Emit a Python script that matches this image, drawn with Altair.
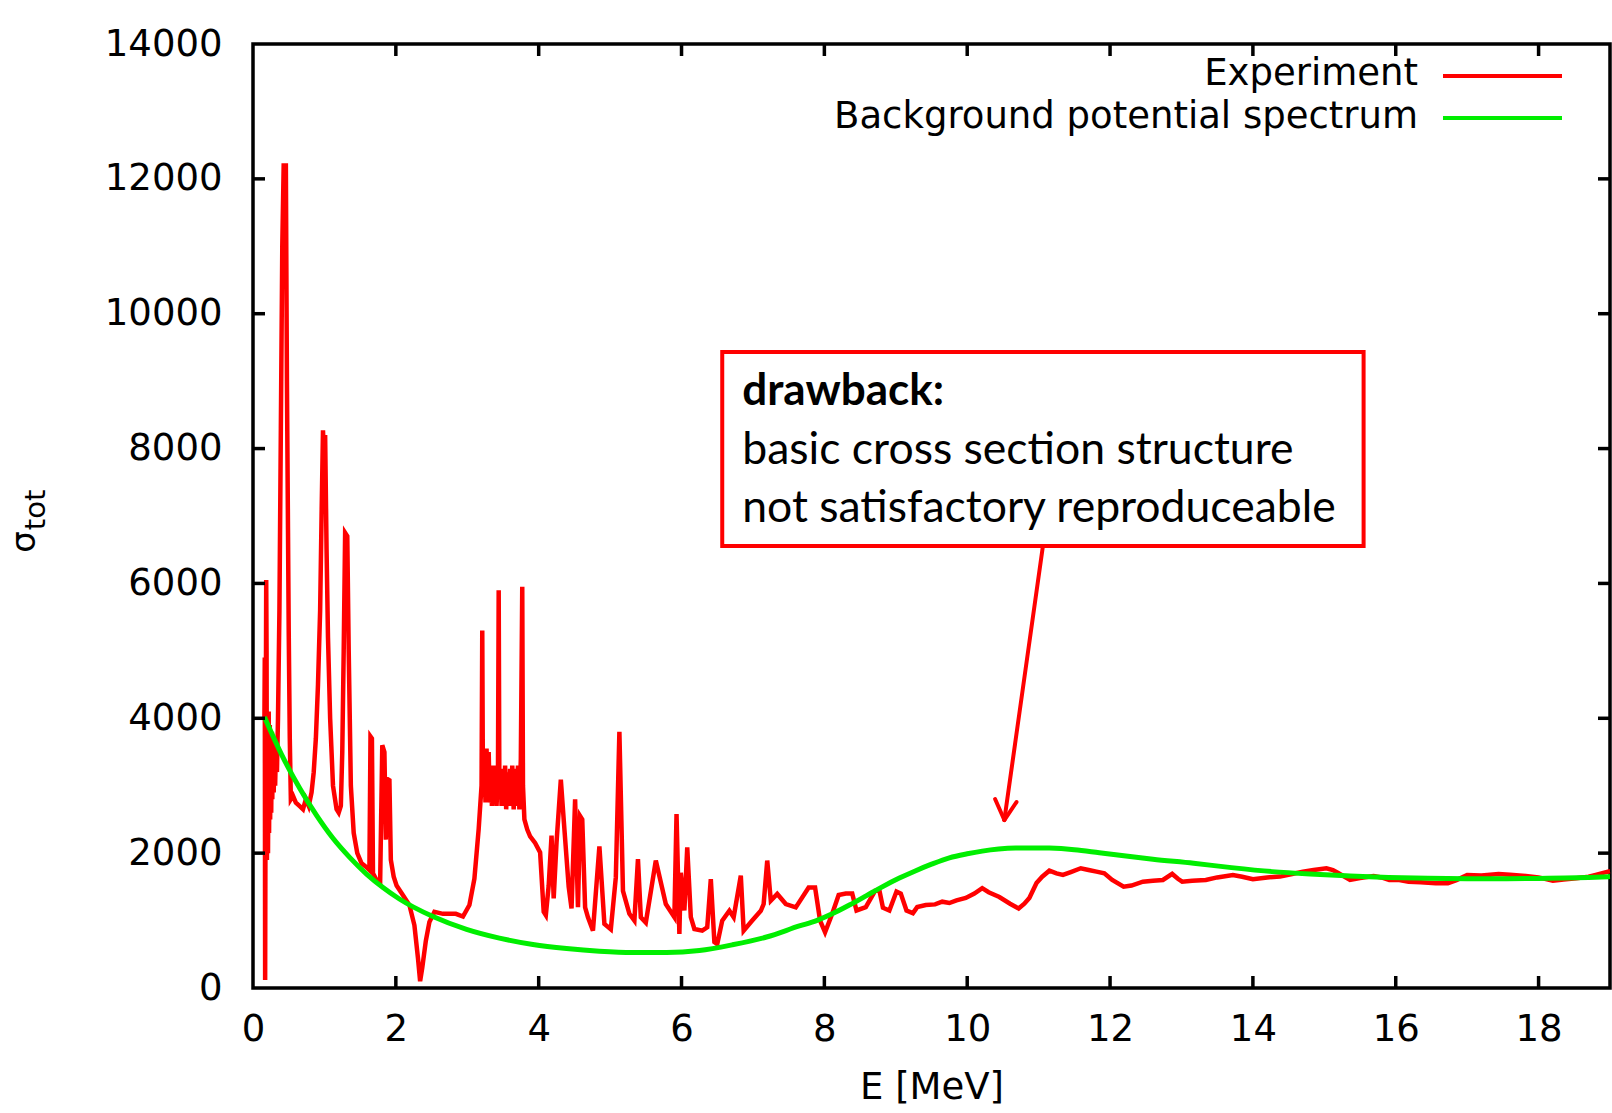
import altair as alt
import pandas as pd

# Measured total cross section (E in MeV, sigma_tot)
exp_energy = [
    0.16, 0.165, 0.17, 0.175, 0.185, 0.19, 0.195, 0.205, 0.21, 0.22,
    0.225, 0.235, 0.24, 0.25, 0.255, 0.265, 0.27, 0.28, 0.29, 0.30,
    0.31, 0.32, 0.335, 0.35, 0.37, 0.39, 0.41, 0.43, 0.445, 0.46,
    0.475, 0.49, 0.50, 0.515, 0.53, 0.56, 0.60, 0.65, 0.70, 0.74,
    0.78, 0.82, 0.85, 0.88, 0.91, 0.94, 0.96, 0.98, 1.00, 1.01,
    1.03, 1.05, 1.08, 1.12, 1.17, 1.20, 1.23, 1.25, 1.27, 1.29,
    1.32, 1.34, 1.37, 1.41, 1.46, 1.52, 1.58, 1.63, 1.645, 1.665,
    1.68, 1.73, 1.78, 1.81, 1.84, 1.86, 1.88, 1.91, 1.93, 1.97,
    2.01, 2.10, 2.19, 2.26, 2.31, 2.34, 2.37, 2.42, 2.47, 2.54,
    2.66, 2.84, 2.94, 3.03, 3.10, 3.16, 3.20, 3.21, 3.22, 3.24,
    3.255, 3.27, 3.285, 3.30, 3.315, 3.33, 3.345, 3.36, 3.375, 3.39,
    3.41, 3.43, 3.44, 3.45, 3.465, 3.48, 3.50, 3.515, 3.53, 3.545,
    3.56, 3.58, 3.60, 3.615, 3.63, 3.65, 3.67, 3.69, 3.71, 3.73,
    3.75, 3.77, 3.78, 3.80, 3.84, 3.88, 3.95, 4.02, 4.07, 4.10,
    4.14, 4.18, 4.21, 4.25, 4.31, 4.35, 4.42, 4.46, 4.51, 4.55,
    4.58, 4.61, 4.65, 4.69, 4.76, 4.85, 4.92, 5.01, 5.08, 5.13,
    5.18, 5.27, 5.34, 5.39, 5.43, 5.50, 5.64, 5.78, 5.90, 5.93,
    5.97, 5.99, 6.04, 6.08, 6.13, 6.18, 6.29, 6.36, 6.41, 6.46,
    6.50, 6.57, 6.67, 6.73, 6.83, 6.87, 6.99, 7.11, 7.15, 7.20,
    7.25, 7.34, 7.46, 7.60, 7.78, 7.87, 7.94, 8.01, 8.11, 8.20,
    8.30, 8.39, 8.45, 8.58, 8.71, 8.77, 8.82, 8.91, 9.01, 9.07,
    9.15, 9.24, 9.30, 9.42, 9.55, 9.65, 9.75, 9.85, 9.98, 10.10,
    10.21, 10.30, 10.45, 10.60, 10.72, 10.80, 10.87, 10.97, 11.05, 11.15,
    11.25, 11.34, 11.45, 11.59, 11.70, 11.81, 11.92, 12.03, 12.19, 12.30,
    12.46, 12.60, 12.74, 12.87, 12.95, 13.01, 13.15, 13.34, 13.50, 13.72,
    13.85, 14.00, 14.20, 14.38, 14.55, 14.70, 14.85, 15.03, 15.12, 15.20,
    15.36, 15.50, 15.69, 15.80, 15.91, 16.05, 16.18, 16.35, 16.56, 16.73,
    16.85, 17.00, 17.20, 17.44, 17.60, 17.82, 18.00, 18.20, 18.35, 18.53,
    18.70, 18.80, 18.97, 19.00,
]
exp_sigma = [
    4000, 4900, 120, 2500, 6050, 5000, 1900, 4100, 2000, 4100,
    2300, 3900, 2500, 3800, 2600, 3800, 2800, 3700, 2900, 3600,
    3000, 3500, 3200, 4000, 5600, 8300, 11000, 12230, 10500, 12230,
    9000, 6800, 5300, 3700, 2800, 2850, 2750, 2700, 2650, 2800,
    2700, 2900, 3200, 3700, 4500, 5600, 7000, 8270, 7700, 8200,
    6500, 5200, 4000, 3000, 2650, 2600, 2700, 3500, 5000, 6750,
    6700, 5000, 3000, 2300, 2000, 1850, 1800, 1750, 3730, 3700,
    1700, 1600, 1550, 3600, 3500, 2200, 3100, 3080, 1900, 1650,
    1520, 1375, 1230, 930, 440, 100, 300, 700, 980, 1130,
    1100, 1100, 1060, 1230, 1620, 2360, 3000, 5300, 2850, 3450,
    2750, 3550, 2800, 3500, 2750, 3300, 2700, 3250, 2750, 3300,
    2700, 3200, 5900, 2800, 3250, 2700, 3250, 2700, 3300, 2650,
    3200, 2700, 3250, 2700, 3300, 2650, 3250, 2700, 3300, 2650,
    3400, 5950, 3000, 2500, 2350, 2250, 2150, 2010, 1130, 1080,
    1520, 2260, 1330, 2160, 3090, 2500, 1500, 1180, 2800, 1200,
    2550, 2500, 1195, 1047, 850, 2100, 950, 870, 1640, 3800,
    1440, 1100, 1000, 1910, 1050, 970, 1890, 1245, 1050, 2580,
    800, 1710, 1150, 2085, 1050, 875, 850, 900, 1615, 680,
    650, 1000, 1145, 1050, 1665, 850, 1000, 1145, 1245, 1890,
    1295, 1395, 1245, 1195, 1490, 1490, 1000, 825, 1100, 1380,
    1400, 1400, 1150, 1200, 1440, 1450, 1190, 1150, 1430, 1400,
    1150, 1110, 1200, 1230, 1240, 1280, 1260, 1300, 1335, 1400,
    1480, 1420, 1350, 1250, 1180, 1250, 1335, 1557, 1650, 1740,
    1700, 1677, 1720, 1776, 1750, 1726, 1700, 1602, 1502, 1520,
    1577, 1590, 1602, 1692, 1620, 1577, 1590, 1602, 1640, 1677,
    1650, 1612, 1640, 1652, 1690, 1726, 1750, 1776, 1750, 1701,
    1602, 1630, 1662, 1640, 1602, 1600, 1577, 1570, 1552, 1552,
    1600, 1677, 1670, 1692, 1680, 1662, 1640, 1592, 1610, 1627,
    1650, 1677, 1726, 1730,
]

# Background potential model curve
bg_energy = [
    0.16, 0.42, 0.66, 0.89, 1.12, 1.36, 1.59, 1.82, 2.05, 2.52,
    2.99, 3.45, 3.92, 4.39, 4.85, 5.31, 5.79, 6.25, 6.71, 7.19,
    7.65, 7.89, 8.11, 8.35, 8.59, 8.81, 9.05, 9.28, 9.51, 9.75,
    10.0, 10.21, 10.44, 10.68, 11.0, 11.15, 11.5, 11.85, 12.08, 12.6,
    13.17, 13.7, 14.27, 14.8, 15.36, 15.9, 16.45, 17.0, 17.55, 18.0,
    18.37, 18.7, 19.0,
]
bg_sigma = [
    4020, 3420, 2950, 2560, 2220, 1930, 1690, 1490, 1320, 1060,
    870, 740, 645, 585, 545, 525, 525, 555, 640, 756,
    920, 1000, 1100, 1230, 1370, 1500, 1630, 1740, 1840, 1930,
    1990, 2030, 2060, 2075, 2078, 2075, 2050, 2005, 1975, 1910,
    1850, 1785, 1726, 1690, 1662, 1640, 1627, 1622, 1622, 1625,
    1630, 1640, 1652,
]

x_tick_values = list(range(0, 19, 2))
y_tick_values = list(range(0, 14001, 2000))
inner_x_ticks = [2, 4, 6, 8, 10, 12, 14, 16, 18]
inner_y_ticks = [2000, 4000, 6000, 8000, 10000, 12000]

legend_labels = ["Experiment", "Background potential spectrum"]
legend_colors = ["#ff0000", "#00ee00"]

note_lines = ["drawback:", "basic cross section structure",
              "not satisfactory reproduceable"]
note_weights = ["bold", "normal", "normal"]
note_x = 6.85
note_y = [8646, 7771, 6911]
box_x = [6.57, 15.55]
box_y = [6555, 9432]
arrow_x = [11.06, 10.52, 10.52]
arrow_y = [6555, 2491, 2491]
arrow_x2 = [10.52, 10.39, 10.69]
arrow_y2 = [2491, 2803, 2758]

FONT = "DejaVu Sans"
W, H = 1357, 944
X_MAX, Y_MAX = 19, 14000
TICK_LEN_X = 12 * X_MAX / W
TICK_LEN_Y = 12 * Y_MAX / H

xs = alt.Scale(domain=[0, X_MAX], nice=False, zero=False)
ys = alt.Scale(domain=[0, Y_MAX], nice=False, zero=False)

x_axis = alt.Axis(values=x_tick_values, format="d", labelFont=FONT,
                  labelFontSize=37, labelColor="black", labelFlush=False,
                  ticks=False, tickSize=0, domain=False, grid=False,
                  labelPadding=23, title="E [MeV]", titleFont=FONT,
                  titleFontSize=37, titleFontWeight="normal",
                  titleColor="black", titlePadding=22)
y_axis = alt.Axis(values=y_tick_values, format="d", labelFont=FONT,
                  labelFontSize=37, labelColor="black", labelFlush=False,
                  ticks=False, tickSize=0, domain=False, grid=False,
                  labelPadding=31, title="")

exp_df = pd.DataFrame({"E": exp_energy, "sigma": exp_sigma,
                       "i": range(len(exp_energy))})
bg_df = pd.DataFrame({"E": bg_energy, "sigma": bg_sigma,
                      "i": range(len(bg_energy))})

exp_line = alt.Chart(exp_df).mark_line(
    color="#ff0000", strokeWidth=4.5, strokeJoin="miter"
).encode(
    x=alt.X("E:Q", scale=xs, axis=x_axis),
    y=alt.Y("sigma:Q", scale=ys, axis=y_axis),
    order="i:Q",
)

bg_line = alt.Chart(bg_df).mark_line(
    color="#00ee00", strokeWidth=5, interpolate="monotone"
).encode(
    x=alt.X("E:Q", scale=xs),
    y=alt.Y("sigma:Q", scale=ys),
    order="i:Q",
)

# Inward tick marks on all four sides of the frame
tick_rows = []
for t in inner_x_ticks:
    tick_rows.append({"x": t, "x2": t, "y": 0, "y2": TICK_LEN_Y})
    tick_rows.append({"x": t, "x2": t, "y": Y_MAX, "y2": Y_MAX - TICK_LEN_Y})
for t in inner_y_ticks:
    tick_rows.append({"x": 0, "x2": TICK_LEN_X, "y": t, "y2": t})
    tick_rows.append({"x": X_MAX, "x2": X_MAX - TICK_LEN_X, "y": t, "y2": t})
ticks = alt.Chart(pd.DataFrame(tick_rows)).mark_rule(
    color="black", strokeWidth=3.5
).encode(
    x=alt.X("x:Q", scale=xs), x2="x2:Q",
    y=alt.Y("y:Q", scale=ys), y2="y2:Q",
)

# Annotation box, its text and the arrow
box = alt.Chart(pd.DataFrame({"x": [box_x[0]], "x2": [box_x[1]],
                              "y": [box_y[0]], "y2": [box_y[1]]})).mark_rect(
    fill="white", stroke="#ff0000", strokeWidth=4
).encode(
    x=alt.X("x:Q", scale=xs), x2="x2:Q",
    y=alt.Y("y:Q", scale=ys), y2="y2:Q",
)

note_df = pd.DataFrame({"x": [note_x] * 3, "y": note_y, "t": note_lines,
                        "w": note_weights})
note_bold = alt.Chart(note_df[note_df.w == "bold"]).mark_text(
    font="Lato", fontSize=44, fontWeight="bold", align="left",
    baseline="alphabetic", color="black"
).encode(x=alt.X("x:Q", scale=xs), y=alt.Y("y:Q", scale=ys), text="t:N")
note_plain = alt.Chart(note_df[note_df.w == "normal"]).mark_text(
    font="Lato", fontSize=44.5, fontWeight="normal", align="left",
    baseline="alphabetic", color="black"
).encode(x=alt.X("x:Q", scale=xs), y=alt.Y("y:Q", scale=ys), text="t:N")

arrow = alt.Chart(pd.DataFrame({"x": arrow_x, "y": arrow_y,
                                "x2": arrow_x2, "y2": arrow_y2})).mark_rule(
    color="#ff0000", strokeWidth=4, strokeCap="round"
).encode(
    x=alt.X("x:Q", scale=xs), x2="x2:Q",
    y=alt.Y("y:Q", scale=ys), y2="y2:Q",
)

# Key in the upper right corner
legend_layers = []
for k, (label, col) in enumerate(zip(legend_labels, legend_colors)):
    lab_df = pd.DataFrame({"t": [label]})
    legend_layers.append(
        alt.Chart(lab_df).mark_text(
            font=FONT, fontSize=37, align="right", baseline="alphabetic",
            color="black"
        ).encode(text="t:N", x=alt.value(1165), y=alt.value(41 + 43 * k))
    )
    legend_layers.append(
        alt.Chart(lab_df).mark_rule(color=col, strokeWidth=4).encode(
            x=alt.value(1190), x2=alt.value(1309), y=alt.value(32 + 42 * k)
        )
    )

# Rotated y title: sigma with subscript "tot"
ytitle_df = pd.DataFrame({"t": ["σ"]})
ysub_df = pd.DataFrame({"t": ["tot"]})
y_title = alt.Chart(ytitle_df).mark_text(
    font=FONT, fontSize=34, angle=270, align="center", baseline="alphabetic",
    color="black"
).encode(text="t:N", x=alt.value(-218), y=alt.value(498))
y_sub = alt.Chart(ysub_df).mark_text(
    font=FONT, fontSize=29, angle=270, align="center", baseline="alphabetic",
    color="black"
).encode(text="t:N", x=alt.value(-208), y=alt.value(466))

chart = alt.layer(
    exp_line, bg_line, ticks, box, note_bold, note_plain, arrow,
    *legend_layers, y_title, y_sub
).properties(
    width=W, height=H,
    autosize=alt.AutoSizeParams(type="none"),
    padding={"left": 253, "top": 44, "right": 2, "bottom": 125},
    background="white",
).configure_view(
    stroke="black", strokeWidth=3.5
)

chart.save("out.html", embed_options={"renderer": "svg", "actions": False})
